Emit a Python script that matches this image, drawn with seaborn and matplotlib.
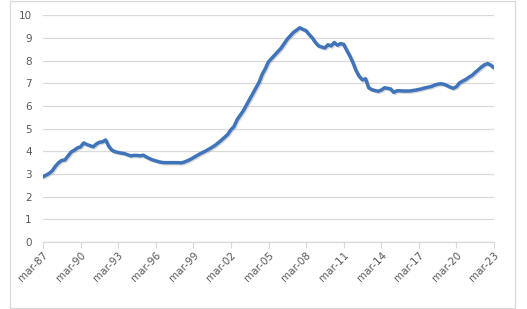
import numpy as np
import pandas as pd
import matplotlib
matplotlib.use("Agg")
import matplotlib.pyplot as plt
import matplotlib.patheffects as pe
import seaborn as sns

# Quarterly values, Q1 1987 .. Q1 2023
values = [
    2.88, 2.95, 3.03, 3.15,   # 1987
    3.35, 3.50, 3.60, 3.62,   # 1988
    3.80, 3.97, 4.05, 4.15,   # 1989
    4.20, 4.37, 4.30, 4.25,   # 1990
    4.20, 4.32, 4.40, 4.42,   # 1991
    4.50, 4.22, 4.05, 3.98,   # 1992
    3.95, 3.92, 3.90, 3.85,   # 1993
    3.80, 3.82, 3.82, 3.80,   # 1994
    3.83, 3.75, 3.68, 3.62,   # 1995
    3.58, 3.54, 3.51, 3.50,   # 1996
    3.50, 3.50, 3.50, 3.50,   # 1997
    3.49, 3.52, 3.58, 3.64,   # 1998
    3.72, 3.80, 3.88, 3.95,   # 1999
    4.02, 4.10, 4.18, 4.27,   # 2000
    4.38, 4.50, 4.62, 4.75,   # 2001
    4.95, 5.10, 5.40, 5.60,   # 2002
    5.80, 6.05, 6.30, 6.55,   # 2003
    6.80, 7.05, 7.40, 7.65,   # 2004
    7.95, 8.10, 8.25, 8.40,   # 2005
    8.55, 8.75, 8.95, 9.10,   # 2006
    9.25, 9.35, 9.45, 9.38,   # 2007
    9.32, 9.15, 9.00, 8.80,   # 2008
    8.65, 8.60, 8.56, 8.70,   # 2009
    8.65, 8.80, 8.68, 8.75,   # 2010
    8.72, 8.45, 8.20, 7.90,   # 2011
    7.55, 7.30, 7.15, 7.20,   # 2012
    6.80, 6.72, 6.68, 6.65,   # 2013
    6.70, 6.80, 6.78, 6.75,   # 2014
    6.60, 6.67, 6.67, 6.66,   # 2015
    6.66, 6.66, 6.68, 6.70,   # 2016
    6.73, 6.76, 6.80, 6.83,   # 2017
    6.86, 6.92, 6.96, 6.98,   # 2018
    6.96, 6.90, 6.83, 6.78,   # 2019
    6.85, 7.02, 7.10, 7.17,   # 2020
    7.27, 7.35, 7.48, 7.60,   # 2021
    7.72, 7.82, 7.87, 7.80,   # 2022
    7.68,                     # 2023
]
tick_labels = ["mar-87", "mar-90", "mar-93", "mar-96", "mar-99", "mar-02",
               "mar-05", "mar-08", "mar-11", "mar-14", "mar-17", "mar-20", "mar-23"]
y_ticks = [0, 1, 2, 3, 4, 5, 6, 7, 8, 9, 10]

df = pd.DataFrame({"q": np.arange(len(values)), "v": values})

sns.set_style("white")
plt.rcParams['font.family'] = ['DejaVu Sans']

W, H = 527, 309
fig = plt.figure(figsize=(W / 100, H / 100), dpi=100)
ax = fig.add_axes([43 / W, (H - 242) / H, 451 / W, 226.7 / H])

line_color = "#3F74BA"
sns.lineplot(data=df, x="q", y="v", ax=ax, color=line_color, linewidth=2.5,
             path_effects=[pe.SimpleLineShadow(offset=(0.8, -0.8), shadow_color="#888888", alpha=0.35),
                           pe.Normal()])

ax.set_xlim(0, len(values) - 1)
ax.set_ylim(0, 10)
ax.set_yticks(y_ticks)
ax.set_yticklabels([str(t) for t in y_ticks], fontsize=7.5, color="#595959")
ax.set_xticks(np.arange(0, len(values), 12))
ax.set_xticklabels(tick_labels, rotation=45, ha="right", rotation_mode="anchor",
                   fontsize=7.5, color="#595959")
ax.set_xlabel("")
ax.set_ylabel("")

ax.grid(axis="y", color="#d9d9d9", linewidth=0.9)
ax.set_axisbelow(True)
for s in ["top", "right", "left"]:
    ax.spines[s].set_visible(False)
ax.spines["bottom"].set_color("#d9d9d9")
ax.spines["bottom"].set_linewidth(0.9)
ax.tick_params(axis="x", which="both", bottom=True, length=4, color="#d9d9d9", pad=2)
ax.tick_params(axis="y", length=0, pad=8)

fig.patches.append(plt.Rectangle((10 / W, 1 / H), 505 / W, 307 / H, transform=fig.transFigure,
                                 fill=False, edgecolor="#d9d9d9", linewidth=0.9))

fig.savefig("out.png", dpi=100)
